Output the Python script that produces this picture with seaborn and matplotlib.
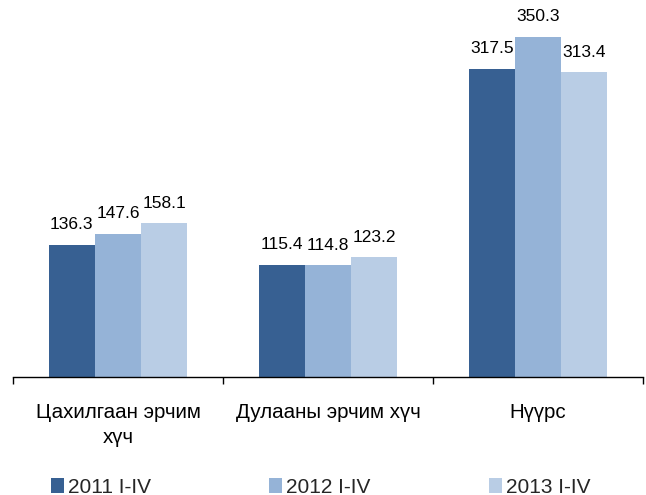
import matplotlib
matplotlib.use("Agg")
import matplotlib.pyplot as plt
import seaborn as sns
import pandas as pd
from matplotlib.patches import Patch
from matplotlib.ticker import FixedLocator

categories = ["Цахилгаан эрчим\nхүч", "Дулааны эрчим хүч", "Нүүрс"]
periods = ["2011 I-IV", "2012 I-IV", "2013 I-IV"]
values_2011 = [136.3, 115.4, 317.5]
values_2012 = [147.6, 114.8, 350.3]
values_2013 = [158.1, 123.2, 313.4]
colors = ["#376092", "#95B3D7", "#B9CDE5"]

rows = []
for period, vals in zip(periods, [values_2011, values_2012, values_2013]):
    for cat, v in zip(categories, vals):
        rows.append({"category": cat, "period": period, "value": v})
df = pd.DataFrame(rows)

sns.set_style("white")
plt.rcParams["font.family"] = ["Liberation Sans", "DejaVu Sans"]

fig = plt.figure(figsize=(6.46, 4.95), dpi=100)
ax = fig.add_axes([13 / 646, (495 - 377) / 495, 630 / 646, 377 / 495])

sns.barplot(data=df, x="category", y="value", hue="period", order=categories,
            hue_order=periods, palette=colors, width=0.66, saturation=1,
            linewidth=0, edgecolor="none", ax=ax, legend=False)

for container in ax.containers:
    ax.bar_label(container, fmt="%.1f", padding=9, fontsize=12.5, color="#000000")

ax.set_ylim(0, 388)
ax.set_xlim(-0.5, 2.5)
ax.set_xlabel("")
ax.set_ylabel("")
ax.set_yticks([])
for side in ["top", "right", "left"]:
    ax.spines[side].set_visible(False)
ax.spines["bottom"].set_color("#000000")
ax.spines["bottom"].set_linewidth(1.0)

ax.tick_params(axis="x", which="major", length=0, labelsize=14.8, pad=19, colors="#000000")
ax.xaxis.set_minor_locator(FixedLocator([-0.5, 0.5, 1.5, 2.5]))
ax.tick_params(axis="x", which="minor", bottom=True, length=5, width=1,
               color="#000000", direction="out")
for lbl in ax.get_xticklabels():
    lbl.set_linespacing(1.35)

handles = [Patch(facecolor=c, edgecolor="none") for c in colors]
fig.legend(handles, periods, loc="lower left", bbox_to_anchor=(0.050, -0.041),
           ncol=3, frameon=False, fontsize=15, handlelength=0.6, handleheight=0.75,
           handletextpad=0.2, columnspacing=5.7)

fig.savefig("out.png", dpi=100, facecolor="white")
